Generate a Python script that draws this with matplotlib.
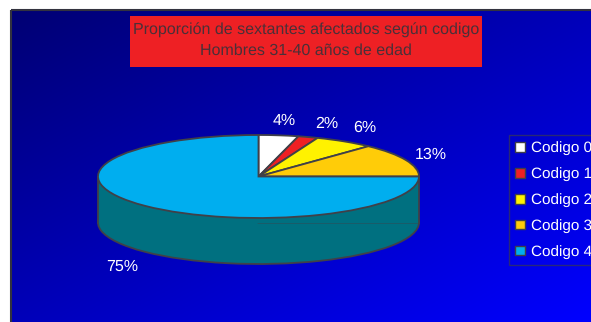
import matplotlib
matplotlib.use("Agg")
import matplotlib.pyplot as plt
import numpy as np
from matplotlib.patches import Patch, Rectangle

plt.rcParams["font.family"] = ["Liberation Sans", "DejaVu Sans"]
plt.rcParams["text.hinting"] = "none"

codes = ["Codigo 0", "Codigo 1", "Codigo 2", "Codigo 3", "Codigo 4"]
shares = [4, 2, 6, 13, 75]
top_colors = ["#FFFFFF", "#EE2024", "#FFF200", "#FFCC08", "#00AEEF"]
wall_color = "#007080"
edge = "#404048"
title = "Proporción de sextantes afectados según codigo\nHombres 31-40 años de edad"

W, H = 591, 322
fig = plt.figure(figsize=(W / 100, H / 100), dpi=100, facecolor="white")


def pixel_axes(left, top, right, bottom):
    return fig.add_axes([left / W, 1 - bottom / H, (right - left) / W, (bottom - top) / H])


# background panel with diagonal gradient
bg = fig.add_axes([0, 0, 1, 1])
xx, yy = np.meshgrid(np.linspace(0, 1, 200), np.linspace(0, 1, 120))
mix = (xx + yy) / 2
grad = np.dstack([np.zeros_like(mix), np.zeros_like(mix), (115 + 140 * mix) / 255])
bg.imshow(grad, extent=(10.5, W, H, 9.5), aspect="auto", zorder=1)
bg.set_xlim(0, W)
bg.set_ylim(H, 0)
bg.axis("off")
bg.plot([10.5, 10.5], [H, 9.5], color="#33333F", lw=1.5, zorder=2, solid_capstyle="butt")
bg.plot([10.5, W], [9.5, 9.5], color="#33333F", lw=1.5, zorder=2, solid_capstyle="butt")

# title box
bg.add_patch(Rectangle((130, 16), 352, 51, facecolor="#EE2024", edgecolor="none", zorder=3))
bg.text(306, 30, title.split("\n")[0], ha="center", va="center", fontsize=11.5,
        color="#4A3038", zorder=4)
bg.text(306, 51, title.split("\n")[1], ha="center", va="center", fontsize=11.5,
        color="#4A3038", zorder=4)

# pie: unit circle squeezed into the ellipse box
pie_ax = pixel_axes(98, 135, 419, 218)
pie_ax.patch.set_alpha(0)
depth = 46 / 41.5
style = {"edgecolor": edge, "linewidth": 1.3}
wall, _ = pie_ax.pie(shares, colors=[wall_color] * 5, startangle=90, counterclock=False,
                     center=(0, -depth), radius=1, wedgeprops=style)
for w in wall:
    w.set_clip_on(False)
side = Rectangle((-1, -depth), 2, depth, facecolor=wall_color, edgecolor="none", zorder=1.5, clip_on=False)
pie_ax.add_patch(side)
pie_ax.plot([-1, -1], [-depth, 0], color=edge, lw=1.3, clip_on=False, zorder=1.6)
pie_ax.plot([1, 1], [-depth, 0], color=edge, lw=1.3, clip_on=False, zorder=1.6)
top, _ = pie_ax.pie(shares, colors=top_colors, startangle=90, counterclock=False,
                    radius=1, wedgeprops=style)
for w in top:
    w.set_clip_on(False)
    w.set_zorder(2)
pie_ax.set_aspect("auto")
pie_ax.set_xlim(-1, 1)
pie_ax.set_ylim(-1, 1)
pie_ax.axis("off")

# percent labels
label_xy = [(284, 121), (327, 124), (365, 128), (431, 155), (122, 267)]
for share, (x, y) in zip(shares, label_xy):
    bg.text(x, y, f"{share}%", color="white", fontsize=11.5, ha="center", va="center", zorder=5)

# legend runs off the right edge like the original
handles = [Patch(facecolor=c, edgecolor=edge, linewidth=1) for c in top_colors]
leg = bg.legend(handles, codes, loc="upper left", bbox_to_anchor=(509 / W, 1 - 135 / H),
                bbox_transform=fig.transFigure, frameon=True, fancybox=False,
                facecolor="none", edgecolor="#33335F", fontsize=11, labelcolor="white",
                handlelength=0.6, handleheight=0.6, handletextpad=0.4, labelspacing=0.78,
                borderpad=0.42, borderaxespad=0)
leg.get_frame().set_linewidth(1)
leg.set_zorder(5)

fig.savefig("out.png", dpi=100, facecolor="white")
